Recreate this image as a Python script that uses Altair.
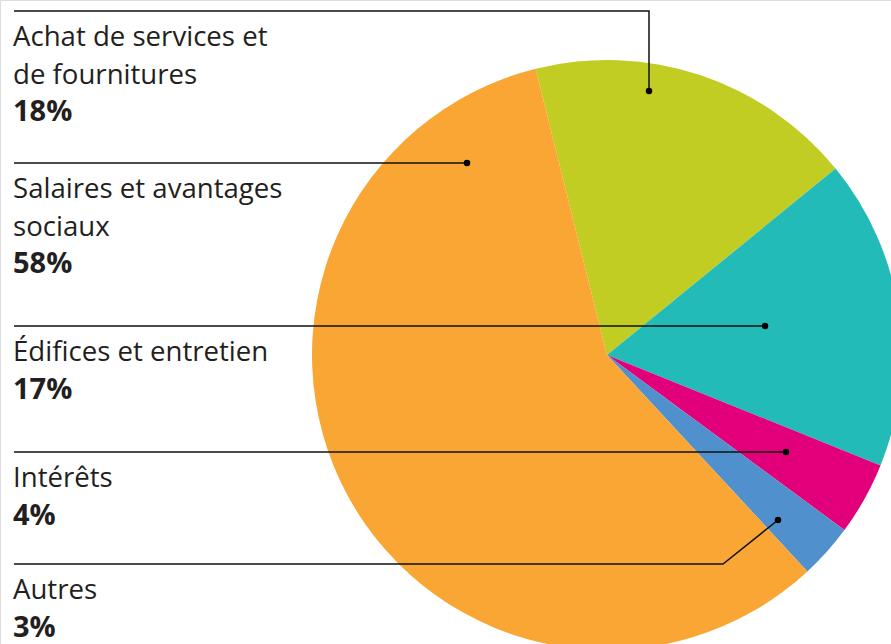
import altair as alt
import pandas as pd
import math

# ---- data ----
categories = ["Achat de services et de fournitures", "Édifices et entretien",
              "Intérêts", "Autres", "Salaires et avantages sociaux"]
values = [18, 17, 4, 3, 58]
colors = ["#C2CD23", "#23BBB7", "#E2007A", "#5091CD", "#F9A635"]

label_names = [["Achat de services et", "de fournitures"],
               ["Salaires et avantages", "sociaux"],
               ["Édifices et entretien"],
               ["Intérêts"],
               ["Autres"]]
label_pcts = ["18%", "58%", "17%", "4%", "3%"]

W, H = 891, 644
CX, CY, R = 607, 355, 295
start = math.radians(-14.0)

# leader-line annotation geometry (pixel coordinates)
leader_paths = [
    [(14, 11), (649, 11), (649, 91)],
    [(14, 163), (467, 163)],
    [(14, 326), (765, 326)],
    [(14, 452), (786, 452)],
    [(14, 564), (723, 564), (778, 520)],
]
label_top = [11, 163, 326, 452, 564]
LINE_GAP = 37.5
TEXT_X = 13

pie_df = pd.DataFrame({"cat": categories, "val": values, "idx": list(range(len(values)))})

xs = alt.Scale(domain=[0, W], range=[0, W])
ys = alt.Scale(domain=[0, H], range=[0, H])

pie = alt.Chart(pie_df).mark_arc(radius=R, stroke=None).encode(
    theta=alt.Theta("val:Q", stack=True,
                    scale=alt.Scale(range=[start, start + 2 * math.pi])),
    color=alt.Color("cat:N", scale=alt.Scale(domain=categories, range=colors), legend=None),
    order=alt.Order("idx:Q"),
    x=alt.value(CX), y=alt.value(CY),
)

rows = []
for i, path in enumerate(leader_paths):
    for j, (px, py) in enumerate(path):
        rows.append({"id": i, "seq": j, "x": px, "y": py})
line_df = pd.DataFrame(rows)
dot_df = pd.DataFrame([{"x": p[-1][0], "y": p[-1][1]} for p in leader_paths])

lines = alt.Chart(line_df).mark_line(color="#111111", strokeWidth=1.5).encode(
    x=alt.X("x:Q", scale=xs, axis=None),
    y=alt.Y("y:Q", scale=ys, axis=None),
    detail="id:N",
    order="seq:Q",
)
dots = alt.Chart(dot_df).mark_circle(color="#000000", opacity=1, size=42).encode(
    x=alt.X("x:Q", scale=xs, axis=None),
    y=alt.Y("y:Q", scale=ys, axis=None),
)

name_rows, pct_rows = [], []
for i, names in enumerate(label_names):
    for k, t in enumerate(names):
        name_rows.append({"x": TEXT_X, "y": label_top[i] + 35 + k * LINE_GAP, "t": t})
    pct_rows.append({"x": TEXT_X, "y": label_top[i] + 35 + len(names) * LINE_GAP, "t": label_pcts[i]})

names_layer = alt.Chart(pd.DataFrame(name_rows)).mark_text(
    align="left", baseline="alphabetic", font="Open Sans", fontSize=27.6, color="#231F20"
).encode(x=alt.X("x:Q", scale=xs, axis=None), y=alt.Y("y:Q", scale=ys, axis=None), text="t:N")

pct_layer = alt.Chart(pd.DataFrame(pct_rows)).mark_text(
    align="left", baseline="alphabetic", font="Open Sans", fontSize=29, fontWeight="bold",
    color="#231F20"
).encode(x=alt.X("x:Q", scale=xs, axis=None), y=alt.Y("y:Q", scale=ys, axis=None), text="t:N")

chart = alt.layer(pie, lines, dots, names_layer, pct_layer).properties(
    width=W, height=H, padding=0, autosize=alt.AutoSizeParams(type="none")
).configure_view(stroke=None).configure(background="white")

chart.save("out.html", embed_options={"renderer": "svg", "actions": False})
